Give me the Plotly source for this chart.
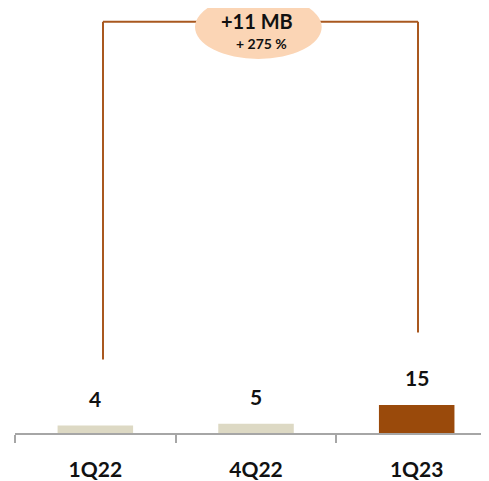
import plotly.graph_objects as go

categories = ["1Q22", "4Q22", "1Q23"]
values = [4, 5, 15]
bar_colors = ["#DDD9C4", "#DDD9C4", "#9A4A0B"]
delta_label = "+11 MB"
delta_pct_label = "+ 275 %"

FONT = "Lato"
# page has an 8px body margin; the figure is sized/offset to compensate
OFF = 8
W, H = 489 - OFF, 481 - OFF
PLOT_L, PLOT_B = 15, 433.5  # page coords of plot area left / baseline

fig = go.Figure()
fig.add_trace(go.Bar(
    x=categories, y=values, marker=dict(color=bar_colors, line=dict(width=0)),
    width=0.47, hoverinfo="skip", showlegend=False,
))

for c, v in zip(categories, values):
    fig.add_annotation(x=c, y=v, text=f"<b>{v}</b>", showarrow=False,
                       yanchor="bottom", yshift=13,
                       font=dict(family=FONT, size=21, color="#111111"))

line_col = "#A9581F"
plot_w = 489 - PLOT_L
plot_h = PLOT_B - OFF
def px(x): return (x - PLOT_L) / plot_w
def py(y): return 1 - (y - OFF) / plot_h

fig.add_shape(type="line", xref="paper", yref="paper", x0=px(103), x1=px(103), y0=py(21.7), y1=py(360),
              line=dict(color=line_col, width=2))
fig.add_shape(type="line", xref="paper", yref="paper", x0=px(418), x1=px(418), y0=py(21.7), y1=py(333),
              line=dict(color=line_col, width=2))
fig.add_shape(type="line", xref="paper", yref="paper", x0=px(103), x1=px(418), y0=py(21.7), y1=py(21.7),
              line=dict(color=line_col, width=2))
fig.add_shape(type="circle", xref="paper", yref="paper", x0=px(195), x1=px(321.7), y0=py(-4.8), y1=py(59),
              fillcolor="#FBD5B5", line=dict(width=0))
fig.add_annotation(xref="paper", yref="paper", x=px(257), y=py(21.5), text=f"<b>{delta_label}</b>",
                   showarrow=False, xanchor="center", yanchor="middle",
                   font=dict(family=FONT, size=20, color="#111111"))
fig.add_annotation(xref="paper", yref="paper", x=px(261.5), y=py(43.5), text=f"<b>{delta_pct_label}</b>",
                   showarrow=False, xanchor="center", yanchor="middle",
                   font=dict(family=FONT, size=14, color="#111111"))

px_per_unit = 1.87
fig.update_layout(
    width=W, height=H, margin=dict(l=PLOT_L - OFF, r=0, t=0, b=H - plot_h),
    paper_bgcolor="white", plot_bgcolor="white",
    xaxis=dict(type="category", range=[-0.5, 2.45], showline=True, linecolor="#A6A6A6", linewidth=2,
               ticks="outside", tickson="boundaries", ticklen=8, tickwidth=2, tickcolor="#A6A6A6",
               showgrid=False, zeroline=False,
               tickfont=dict(family=FONT, size=21, color="#111111"), ticklabelstandoff=17,
               tickprefix="<b>", ticksuffix="</b>"),
    yaxis=dict(range=[0, plot_h / px_per_unit], visible=False, showgrid=False, zeroline=False),
)
fig.write_html("out.html")
